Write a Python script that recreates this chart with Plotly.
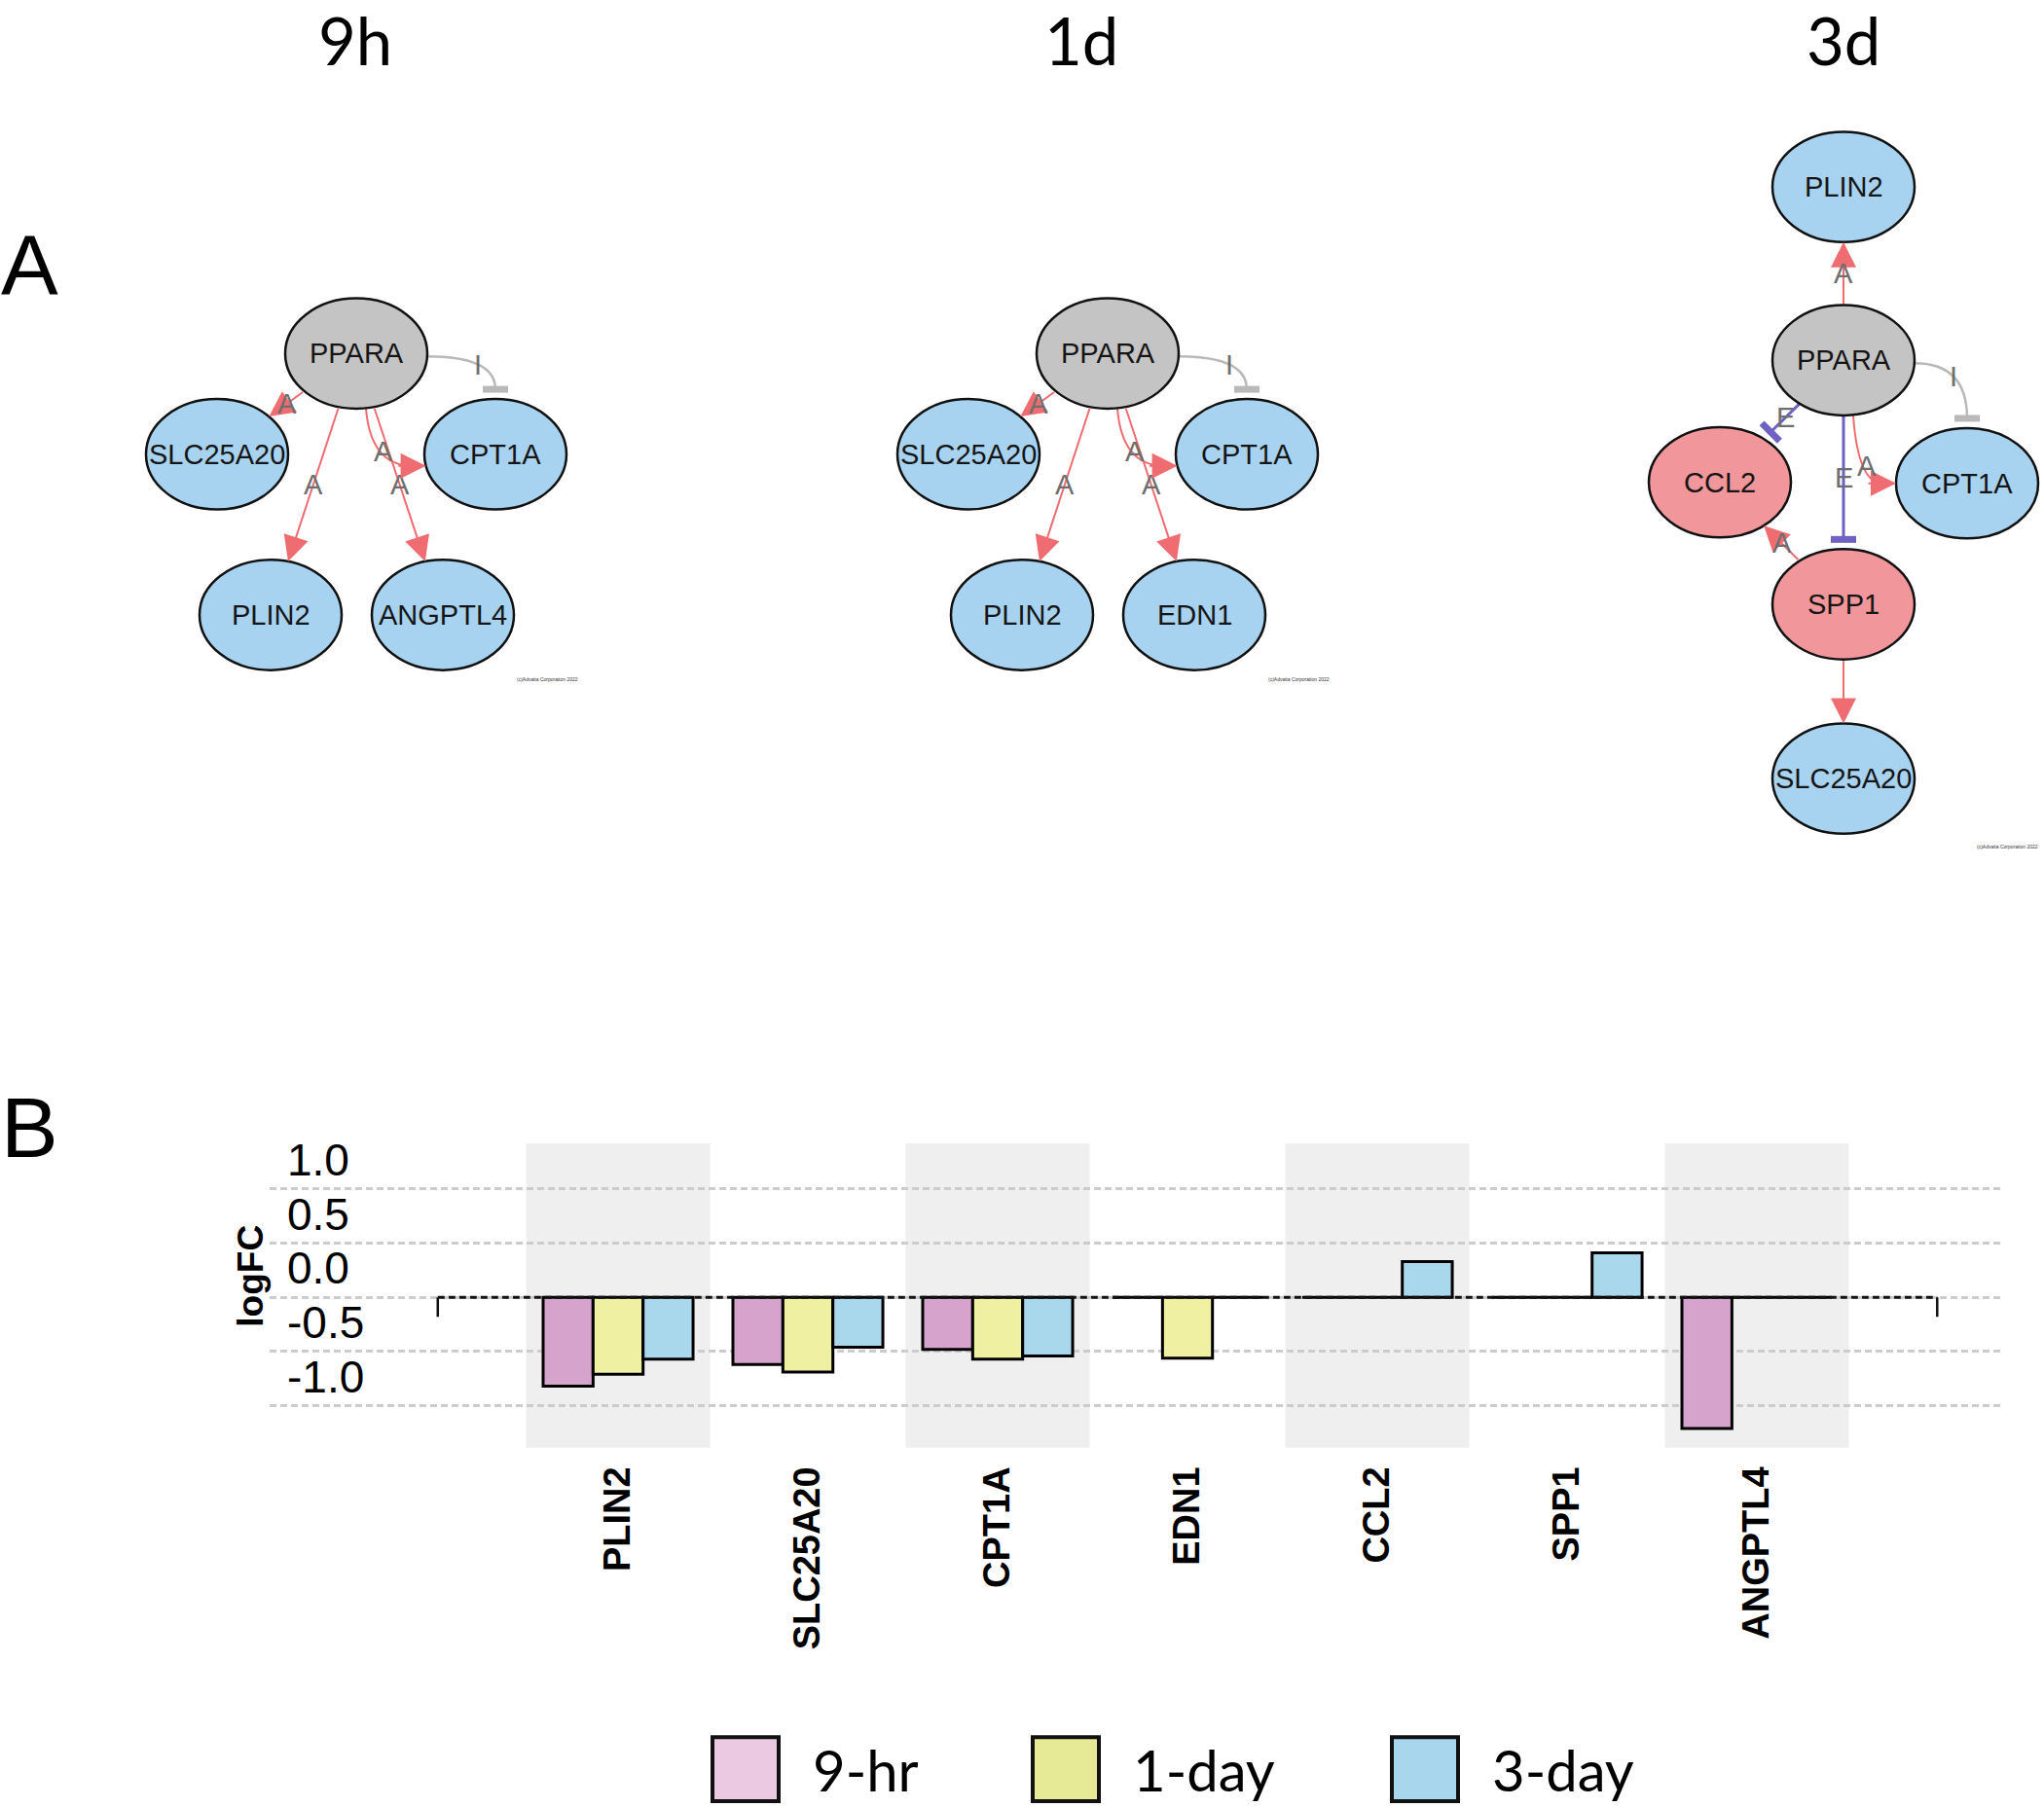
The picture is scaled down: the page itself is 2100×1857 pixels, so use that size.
import math
import plotly.graph_objects as go

# ============================ DATA ============================
# Panel B: logFC per gene and time point
genes = ["PLIN2", "SLC25A20", "CPT1A", "EDN1", "CCL2", "SPP1", "ANGPTL4"]
series_names = ["9-hr", "1-day", "3-day"]
logfc_9hr = [-0.82, -0.62, -0.48, 0.00, 0.00, 0.00, -1.21]
logfc_1day = [-0.71, -0.69, -0.57, -0.56, 0.00, 0.00, 0.00]
logfc_3day = [-0.57, -0.46, -0.54, 0.00, 0.33, 0.41, 0.00]
y_tick_values = [1.0, 0.5, 0.0, -0.5, -1.0]
y_tick_labels = ["1.0", "0.5", "0.0", "-0.5", "-1.0"]

# Panel A: regulatory networks (node, regulation) and (source, target, relation)
network_titles = ["9h", "1d", "3d"]
nodes_9h = [("PPARA", "none"), ("SLC25A20", "down"), ("CPT1A", "down"),
            ("PLIN2", "down"), ("ANGPTL4", "down")]
edges_9h = [("PPARA", "SLC25A20", "A"), ("PPARA", "PLIN2", "A"),
            ("PPARA", "ANGPTL4", "A"), ("PPARA", "CPT1A", "A"),
            ("PPARA", "CPT1A", "I")]
nodes_1d = [("PPARA", "none"), ("SLC25A20", "down"), ("CPT1A", "down"),
            ("PLIN2", "down"), ("EDN1", "down")]
edges_1d = [("PPARA", "SLC25A20", "A"), ("PPARA", "PLIN2", "A"),
            ("PPARA", "EDN1", "A"), ("PPARA", "CPT1A", "A"),
            ("PPARA", "CPT1A", "I")]
nodes_3d = [("PLIN2", "down"), ("PPARA", "none"), ("CCL2", "up"),
            ("CPT1A", "down"), ("SPP1", "up"), ("SLC25A20", "down")]
edges_3d = [("PPARA", "PLIN2", "A"), ("PPARA", "CCL2", "E"),
            ("PPARA", "SPP1", "E"), ("PPARA", "CPT1A", "A"),
            ("PPARA", "CPT1A", "I"), ("SPP1", "CCL2", "A"),
            ("SPP1", "SLC25A20", "A")]
copyright_text = "(c)Advaita Corporation 2022"

# ============================ LAYOUT / STYLE ============================
W, H = 2100, 1857
NODE_POS = {
    "9h": {"PPARA": (366, 356), "SLC25A20": (223, 460), "CPT1A": (509, 460),
           "PLIN2": (278, 626), "ANGPTL4": (455, 626)},
    "1d": {"PPARA": (1138, 356), "SLC25A20": (995, 460), "CPT1A": (1281, 460),
           "PLIN2": (1050, 626), "EDN1": (1227, 626)},
    "3d": {"PLIN2": (1894, 184), "PPARA": (1894, 363), "CCL2": (1767, 489),
           "CPT1A": (2021, 490), "SPP1": (1894, 615), "SLC25A20": (1894, 795)},
}
BEND_DY = {"9h": 12, "1d": 12, "3d": 0}
TITLE_X = [365, 1111, 1894]
COPY_POS = {"9h": (562, 692), "1d": (1334, 692), "3d": (2062, 865)}
ROUTES = {("PPARA", "CPT1A", "A"): "bend_down", ("PPARA", "CPT1A", "I"): "bend_right"}
HIDDEN_LABELS = {("SPP1", "SLC25A20")}
RX, RY = 73, 57
NODE_FILL = {"none": "#c4c4c4", "down": "#a8d3f0", "up": "#f1979b"}
EDGE_COLOR = {"A": "#ef6c71", "I": "#b9b9b9", "E": "#6d62c2"}
BAR_COLORS = ["#d6a3cd", "#f0f0a3", "#a9d7eb"]
LEGEND_FILL = ["#ecc9e3", "#e6ea97", "#a8d6ec"]
LEGEND_X = [732, 1061, 1430]
NODE_FONT = "Liberation Sans, Arial, sans-serif"
TITLE_FONT = "Lato, Carlito, Calibri, sans-serif"
ARROW = dict(arrowhead=2, arrowsize=2.6, arrowwidth=2)

fig = go.Figure()
shapes, annotations = [], []


def ellipse_pt(c, d):
    dx, dy = d
    t = 1.0 / math.sqrt((dx / RX) ** 2 + (dy / RY) ** 2)
    return (c[0] + dx * t, c[1] + dy * t)


def add_label(pt, text):
    annotations.append(dict(x=pt[0], y=pt[1], xref="x", yref="y", text=text,
                            showarrow=False,
                            font=dict(family=NODE_FONT, size=29, color="#6e6e6e")))


def line_shape(p0, p1, color, width):
    shapes.append(dict(type="line", xref="x", yref="y", x0=p0[0], y0=p0[1],
                       x1=p1[0], y1=p1[1], line=dict(color=color, width=width)))


def draw_network(key, nodes, edges):
    pos = NODE_POS[key]
    for src, tgt, rel in edges:
        s_c, t_c = pos[src], pos[tgt]
        color = EDGE_COLOR[rel]
        route = ROUTES.get((src, tgt, rel), "straight")
        show_lab = (src, tgt) not in HIDDEN_LABELS
        if route == "straight":
            s = ellipse_pt(s_c, (t_c[0] - s_c[0], t_c[1] - s_c[1]))
            e = ellipse_pt(t_c, (s_c[0] - t_c[0], s_c[1] - t_c[1]))
            if rel == "A":
                annotations.append(dict(x=e[0], y=e[1], ax=s[0], ay=s[1], xref="x", yref="y",
                                        axref="x", ayref="y", text="", showarrow=True,
                                        arrowcolor=color, standoff=0, startstandoff=0, **ARROW))
                mid = ((s[0] + e[0]) / 2, (s[1] + e[1]) / 2)
            else:
                L = math.hypot(e[0] - s[0], e[1] - s[1])
                u = ((e[0] - s[0]) / L, (e[1] - s[1]) / L)
                b = (e[0] - u[0] * 10, e[1] - u[1] * 10)
                line_shape(s, b, color, 3)
                perp = (-u[1], u[0])
                line_shape((b[0] - perp[0] * 13, b[1] - perp[1] * 13),
                           (b[0] + perp[0] * 13, b[1] + perp[1] * 13), color, 7)
                mid = ((s[0] + b[0]) / 2, (s[1] + b[1]) / 2)
        elif route == "bend_down":
            dy = BEND_DY[key]
            p0 = (s_c[0] + 10, s_c[1] + RY)
            p2y = t_c[1] + dy
            p2x = t_c[0] - RX * math.sqrt(1 - (dy / RY) ** 2)
            c = (p0[0] + 5, p2y)
            shapes.append(dict(type="path", xref="x", yref="y",
                               path=f"M{p0[0]},{p0[1]} Q{c[0]},{c[1]} {p2x - 14},{p2y}",
                               line=dict(color=color, width=2)))
            annotations.append(dict(x=p2x, y=p2y, ax=p2x - 30, ay=p2y, xref="x", yref="y",
                                    axref="x", ayref="y", text="", showarrow=True,
                                    arrowcolor=color, standoff=0, **ARROW))
            mid = (0.25 * p0[0] + 0.5 * c[0] + 0.25 * p2x, 0.25 * p0[1] + 0.5 * c[1] + 0.25 * p2y)
        else:  # bend_right, inhibition bar on top of target
            p0 = (s_c[0] + RX * math.sqrt(1 - (3 / RY) ** 2), s_c[1] + 3)
            p2 = (t_c[0], t_c[1] - RY - 10)
            c = (p2[0], p0[1])
            shapes.append(dict(type="path", xref="x", yref="y",
                               path=f"M{p0[0]},{p0[1]} Q{c[0]},{c[1]} {p2[0]},{p2[1]}",
                               line=dict(color=color, width=2.5)))
            line_shape((p2[0] - 13, p2[1]), (p2[0] + 13, p2[1]), color, 7)
            mid = (0.25 * p0[0] + 0.5 * c[0] + 0.25 * p2[0], 0.25 * p0[1] + 0.5 * c[1] + 0.25 * p2[1])
        if show_lab:
            add_label(mid, rel)
    for name, reg in nodes:
        cx, cy = pos[name]
        shapes.append(dict(type="circle", xref="x", yref="y", x0=cx - RX, x1=cx + RX,
                           y0=cy - RY, y1=cy + RY, fillcolor=NODE_FILL[reg],
                           line=dict(color="#111111", width=2.5)))
        annotations.append(dict(x=cx, y=cy, xref="x", yref="y", text=name, showarrow=False,
                                font=dict(family=NODE_FONT, size=29, color="#151515")))
    cp = COPY_POS[key]
    annotations.append(dict(x=cp[0], y=cp[1], xref="x", yref="y", text=copyright_text,
                            showarrow=False, font=dict(family=NODE_FONT, size=5, color="#333")))


for key, nodes, edges in [("9h", nodes_9h, edges_9h), ("1d", nodes_1d, edges_1d),
                          ("3d", nodes_3d, edges_3d)]:
    draw_network(key, nodes, edges)

# titles and panel letters
for tx, title in zip(TITLE_X, network_titles):
    annotations.append(dict(x=tx, y=0, xref="x", yref="y", text=title, showarrow=False,
                            yanchor="top", yshift=10,
                            font=dict(family=TITLE_FONT, size=67, color="black")))
annotations.append(dict(x=30, y=265, xref="x", yref="y", text="A", showarrow=False,
                        font=dict(family=NODE_FONT, size=88, color="black")))
annotations.append(dict(x=30, y=1155, xref="x", yref="y", text="B", showarrow=False,
                        font=dict(family=NODE_FONT, size=88, color="black")))

# ============================ PANEL B ============================
for name, vals, col in zip(series_names, [logfc_9hr, logfc_1day, logfc_3day], BAR_COLORS):
    fig.add_trace(go.Bar(x=genes, y=vals, name=name, xaxis="x2", yaxis="y2",
                         marker=dict(color=col, line=dict(color="black", width=3)),
                         showlegend=False))

# alternating gray bands
for i in range(0, len(genes), 2):
    shapes.append(dict(type="rect", xref="x2", yref="y2 domain", x0=i - 0.485, x1=i + 0.485,
                       y0=0, y1=1, fillcolor="#eeefee", line=dict(width=0), layer="below"))
# dashed zero baseline with end ticks
x_lo, x_hi = -0.95, len(genes) - 1 + 0.95
shapes.append(dict(type="line", xref="x2", yref="y2", x0=x_lo, x1=x_hi, y0=0, y1=0,
                   line=dict(color="#111111", width=3, dash="7px,4px")))
for xe in (x_lo, x_hi):
    shapes.append(dict(type="line", xref="x2", yref="y2", x0=xe, x1=xe, y0=0, y1=-0.18,
                       line=dict(color="#111111", width=2.5)))

annotations.append(dict(x=258, y=1309, xref="x", yref="y", text="logFC", textangle=-90,
                        showarrow=False,
                        font=dict(family=NODE_FONT, size=37, color="black", weight="bold")))

# legend (drawn manually for large swatches)
for lx, name, col in zip(LEGEND_X, series_names, LEGEND_FILL):
    shapes.append(dict(type="rect", xref="x", yref="y", x0=lx, x1=lx + 68, y0=1785, y1=1851,
                       fillcolor=col, line=dict(color="#111111", width=4)))
    annotations.append(dict(x=lx + 101, y=1818, xref="x", yref="y", text=name, xanchor="left",
                            showarrow=False, font=dict(family=TITLE_FONT, size=58, color="black")))

fig.update_layout(
    width=W, height=H, margin=dict(l=0, r=0, t=0, b=0),
    paper_bgcolor="white", plot_bgcolor="rgba(0,0,0,0)",
    barmode="group", bargap=0.21, bargroupgap=0, hovermode=False,
    shapes=shapes, annotations=annotations,
    xaxis=dict(domain=[0, 1], range=[0, W], visible=False, fixedrange=True),
    yaxis=dict(domain=[0, 1], range=[H, 0], visible=False, fixedrange=True),
    xaxis2=dict(domain=[277 / W, 2056 / W], anchor="y2", type="category",
                range=[-1.836, 7.287], tickangle=-90, ticks="", showgrid=False,
                zeroline=False, showline=False, ticklabelstandoff=11,
                tickfont=dict(family=NODE_FONT, size=38, color="black", weight="bold")),
    yaxis2=dict(domain=[(H - 1486) / H, (H - 1172) / H], anchor="x2",
                range=[-1.387, 1.417], tickvals=y_tick_values, ticktext=y_tick_labels,
                ticklabelposition="inside", ticklabelshift=-30, ticklabelstandoff=15,
                ticklabeloverflow="allow", ticks="", showline=False, zeroline=False,
                showgrid=True, gridcolor="#cccccc", gridwidth=3, griddash="7px,4px",
                tickfont=dict(family=NODE_FONT, size=46, color="black")),
)

fig.write_html("out.html", config={"displayModeBar": False},
               post_script="document.body.style.margin='0';")
